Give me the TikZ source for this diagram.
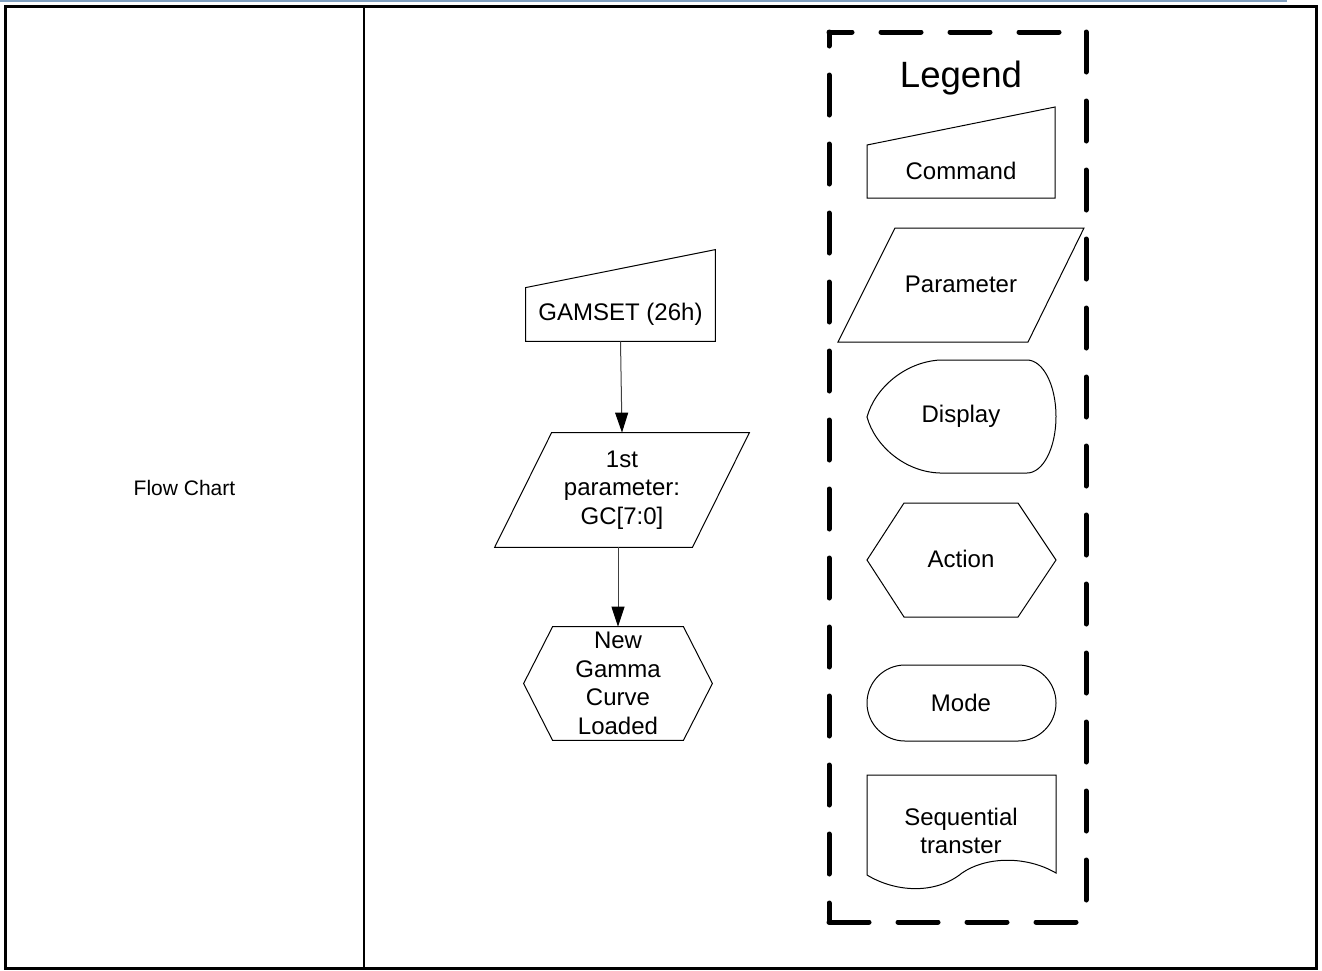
\documentclass[tikz,border=0pt]{standalone}
\usepackage{fontspec}
\setmainfont{Liberation Sans}
\usetikzlibrary{arrows.meta}
\definecolor{rulaazul}{RGB}{128,160,192}
\definecolor{flechagris}{RGB}{64,64,64}
\tikzset{
  figura/.style={draw, line width=0.5pt},
  caja/.style={inner sep=0pt, align=center},
  flecha/.style={draw=flechagris, line width=0.5pt,
    -{Triangle[length=10pt, width=6.5pt, fill=black, color=black]}},
  marco/.style={line width=2.5pt, line cap=round, line join=round,
    dash pattern=on 20pt off 14.5pt}
}
\begin{document}
\begin{tikzpicture}[x=0.5pt, y=-0.5pt, font=\fontsize{12}{14.3}\selectfont]
\useasboundingbox (0,0) rectangle (1322,970);

% ── Tabla ─────────────────────────────────────────────────────
\draw[line width=1pt, rulaazul] (0,1) -- (1287,1);
\draw[line width=1.5pt] (5.5,6) rectangle (1316.5,968.5);
\draw[line width=1pt] (363.5,6) -- (363.5,968.5);
\node[font=\fontsize{10.5}{12}\selectfont] (titulo) at (184.5,488) {Flow Chart};

% ── Diagrama: GAMSET ──────────────────────────────────────────
\node[caja, minimum width=94.5pt, minimum height=26.5pt] (gamset)
    at (620.5,314.5) {GAMSET (26h)};
\draw[figura] (gamset.north west) -- (gamset.south west)
    -- (gamset.south east) -- ([yshift=19pt]gamset.north east) -- cycle;
% parametro
\node[caja, minimum width=98.5pt, minimum height=57pt] (param)
    at (622,490) {1st\\parameter:\\GC[7:0]};
\draw[figura] ([xshift=14.25pt]param.north west)
    -- ([xshift=14.25pt]param.north east)
    -- ([xshift=-14.25pt]param.south east)
    -- ([xshift=-14.25pt]param.south west) -- cycle;
% accion
\node[caja, minimum width=94pt, minimum height=56.5pt] (gamma)
    at (618,683.5) {New\\Gamma\\Curve\\Loaded};
\draw[figura] ([xshift=14.5pt]gamma.north west)
    -- ([xshift=-14.5pt]gamma.north east) -- (gamma.east)
    -- ([xshift=-14.5pt]gamma.south east)
    -- ([xshift=14.5pt]gamma.south west) -- (gamma.west) -- cycle;
% flechas
\draw[flecha] (gamset.south) -- (param.north);
\draw[flecha] (gamma.north |- param.south) -- (gamma.north);

% ── Leyenda ───────────────────────────────────────────────────
\draw[marco, dash phase=8.5pt] (829,32) -- (1086,32);
\draw[marco] (1086,32) -- (1086,922);
\draw[marco] (829,922) -- (1086,922);
\draw[marco, dash phase=10.5pt] (829,922) -- (829,32);
\node[font=\fontsize{18.3}{22}\selectfont] (leyenda) at (961,78) {Legend};
% comando
\draw[figura] (867,145) -- (867,198) -- (1055,198) -- (1055,107) -- cycle;
\node (ley-comando) at (961,171) {Command};
% parametro
\draw[figura] (895,228) -- (1084,228) -- (1028,342) -- (838,342) -- cycle;
\node (ley-param) at (961,284) {Parameter};
% display
\draw[figura] (1027,360) -- (940,360)
    .. controls (905,362) and (875,388) .. (867,417)
    .. controls (875,446) and (905,472) .. (940,473) -- (1027,473)
    .. controls (1043,473) and (1056,448) .. (1056,416.5)
    .. controls (1056,385) and (1043,360) .. (1027,360) -- cycle;
\node (ley-display) at (961,416) {Display};
% accion
\draw[figura] (867,560) -- (904,503) -- (1018,503) -- (1056,560)
    -- (1018,617) -- (904,617) -- cycle;
\node (ley-accion) at (961,559) {Action};
% modo
\draw[figura, rounded corners=19pt] (867,665) rectangle (1056,741);
\node (ley-modo) at (961,703) {Mode};
% transferencia secuencial
\draw[figura] (867,875) -- (867,775) -- (1056,775) -- (1056,873)
    .. controls (1025,855) and (985,857) .. (962,873)
    .. controls (935,895) and (895,892) .. (867,875) -- cycle;
\node[caja] (ley-secuencial) at (961,831) {Sequential\\transter};

\end{tikzpicture}
\end{document}
